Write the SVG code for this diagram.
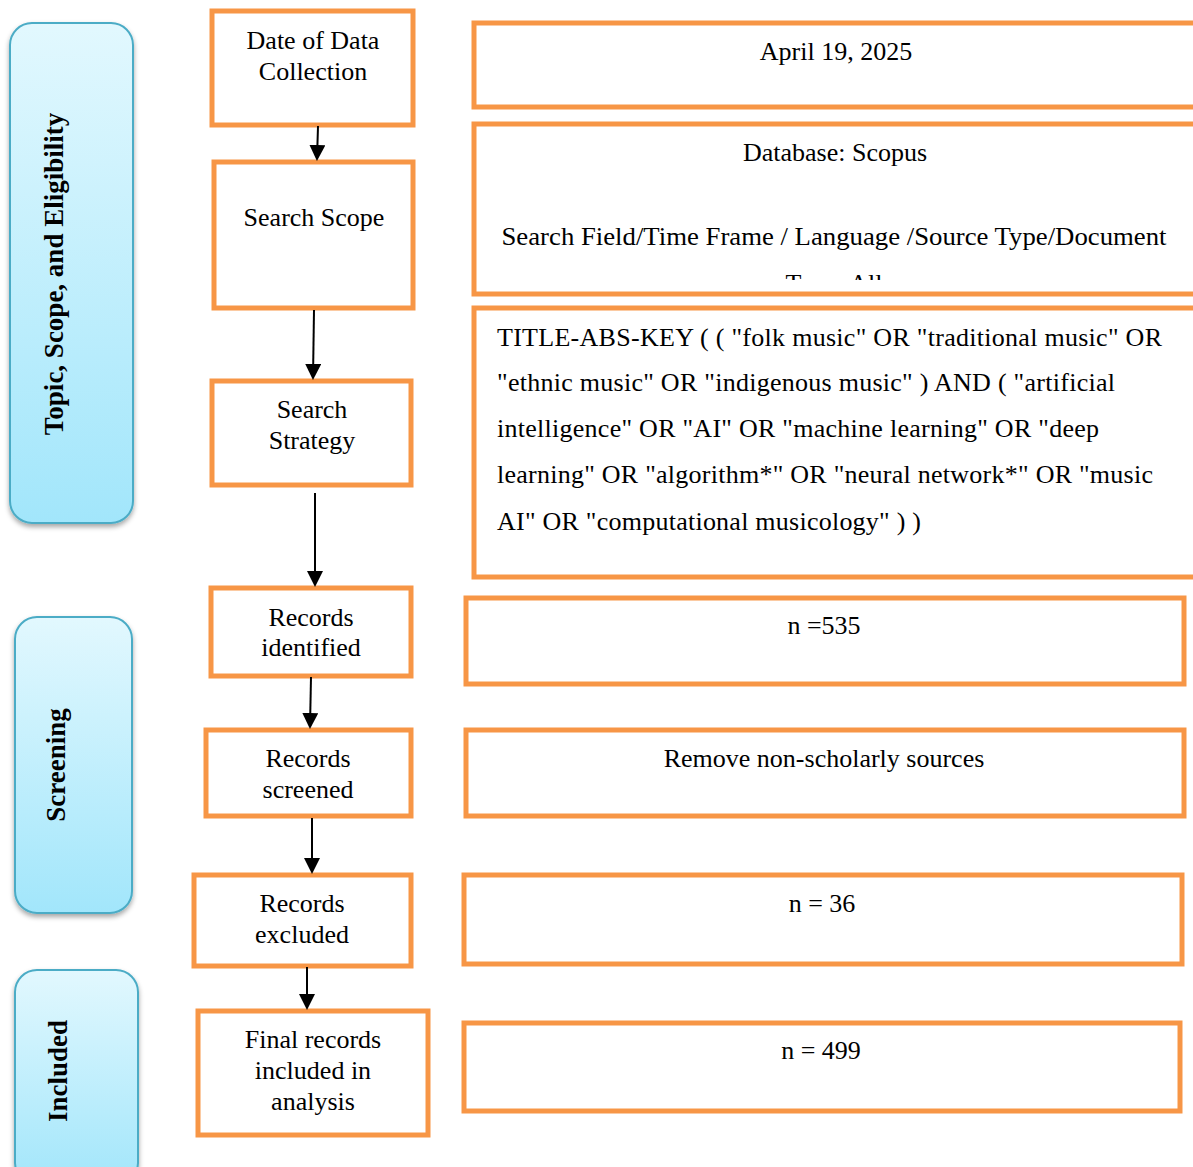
<svg xmlns="http://www.w3.org/2000/svg" width="1193" height="1167" viewBox="0 0 1193 1167">
<style>
.box{fill:#ffffff;stroke:#f79646;stroke-width:5}
.bar{fill:url(#barGrad);stroke:#4bacc6;stroke-width:2;filter:url(#shadow)}
text{font-family:'Liberation Serif','Tinos','Times New Roman',serif}
.t{font-size:26px;font-weight:normal;fill:#000}
.c{text-anchor:middle}
.bt{font-size:27px;font-weight:bold;fill:#000;text-anchor:middle}
.conn{stroke:#000;stroke-width:2;fill:none;marker-end:url(#arrow)}
</style>
<defs>
<linearGradient id="barGrad" x1="0" y1="0" x2="0" y2="1">
<stop offset="0" stop-color="#e2f8fe"/>
<stop offset="1" stop-color="#a2e6fb"/>
</linearGradient>
<filter id="shadow" x="-20%" y="-10%" width="140%" height="120%">
<feDropShadow dx="0" dy="3" stdDeviation="2.5" flood-color="#000" flood-opacity="0.35"/>
</filter>
<marker id="arrow" markerWidth="8" markerHeight="8" refX="7" refY="4" orient="auto" markerUnits="strokeWidth">
<path d="M0,0 L8,4 L0,8 Z" fill="#000"/>
</marker>
<clipPath id="clipScope"><rect x="476" y="126" width="720" height="154"/></clipPath>
</defs>

<g id="stage-topic">
<rect class="bar" x="10" y="23" width="123" height="500" rx="22"/>
<text class="bt" transform="translate(63,274) rotate(-90)">Topic, Scope, and Eligibility</text>
</g>
<g id="stage-screening">
<rect class="bar" x="15" y="617" width="117" height="296" rx="22"/>
<text class="bt" transform="translate(65,765) rotate(-90)">Screening</text>
</g>
<g id="stage-included">
<rect class="bar" x="15" y="970" width="123" height="215" rx="22"/>
<text class="bt" transform="translate(67,1071) rotate(-90)">Included</text>
</g>

<g id="n-date">
<rect class="box" x="212" y="11" width="201" height="114"/>
<text class="t c" x="313" y="49">Date of Data</text>
<text class="t c" x="313" y="80">Collection</text>
</g>
<g id="n-scope">
<rect class="box" x="214" y="162" width="199" height="146"/>
<text class="t c" x="314" y="226">Search Scope</text>
</g>
<g id="n-strategy">
<rect class="box" x="212" y="381" width="199" height="104"/>
<text class="t c" x="312" y="418">Search</text>
<text class="t c" x="312" y="449">Strategy</text>
</g>
<g id="n-identified">
<rect class="box" x="211" y="588" width="200" height="88"/>
<text class="t c" x="311" y="626">Records</text>
<text class="t c" x="311" y="656">identified</text>
</g>
<g id="n-screened">
<rect class="box" x="206" y="730" width="205" height="86"/>
<text class="t c" x="308" y="767">Records</text>
<text class="t c" x="308" y="798">screened</text>
</g>
<g id="n-excluded">
<rect class="box" x="194" y="875" width="217" height="91"/>
<text class="t c" x="302" y="912">Records</text>
<text class="t c" x="302" y="943">excluded</text>
</g>
<g id="n-final">
<rect class="box" x="198" y="1011" width="230" height="124"/>
<text class="t c" x="313" y="1048">Final records</text>
<text class="t c" x="313" y="1079">included in</text>
<text class="t c" x="313" y="1110">analysis</text>
</g>

<g id="d-date">
<rect class="box" x="474" y="23" width="730" height="84"/>
<text class="t c" x="836" y="60">April 19, 2025</text>
</g>
<g id="d-scope">
<rect class="box" x="474" y="124" width="730" height="170"/>
<text class="t c" x="835" y="161">Database: Scopus</text>
<text class="t c" x="834" y="245" textLength="665" lengthAdjust="spacingAndGlyphs">Search Field/Time Frame / Language /Source Type/Document</text>
<text class="t c" x="834" y="292" clip-path="url(#clipScope)">Type: All</text>
</g>
<g id="d-strategy">
<rect class="box" x="474" y="308" width="730" height="269"/>
<text class="t" x="497" y="346" textLength="665" lengthAdjust="spacing">TITLE-ABS-KEY ( ( "folk music" OR "traditional music" OR</text>
<text class="t" x="497" y="391" textLength="618" lengthAdjust="spacing">"ethnic music" OR "indigenous music" ) AND ( "artificial</text>
<text class="t" x="497" y="437" textLength="602" lengthAdjust="spacing">intelligence" OR "AI" OR "machine learning" OR "deep</text>
<text class="t" x="497" y="483" textLength="656" lengthAdjust="spacing">learning" OR "algorithm*" OR "neural network*" OR "music</text>
<text class="t" x="497" y="530" textLength="424" lengthAdjust="spacing">AI" OR "computational musicology" ) )</text>
</g>
<g id="d-identified">
<rect class="box" x="466" y="598" width="718" height="86"/>
<text class="t c" x="824" y="634">n =535</text>
</g>
<g id="d-screened">
<rect class="box" x="466" y="730" width="718" height="86"/>
<text class="t c" x="824" y="767">Remove non-scholarly sources</text>
</g>
<g id="d-excluded">
<rect class="box" x="464" y="875" width="718" height="89"/>
<text class="t c" x="822" y="912">n = 36</text>
</g>
<g id="d-final">
<rect class="box" x="464" y="1023" width="716" height="88"/>
<text class="t c" x="821" y="1059">n = 499</text>
</g>

<g id="connectors">
<line class="conn" x1="318" y1="126" x2="317" y2="159"/>
<line class="conn" x1="314" y1="310" x2="313" y2="378"/>
<line class="conn" x1="315" y1="493" x2="315" y2="585"/>
<line class="conn" x1="311" y1="677" x2="310" y2="727"/>
<line class="conn" x1="312" y1="818" x2="312" y2="872"/>
<line class="conn" x1="307" y1="967" x2="307" y2="1008"/>
</g>
</svg>
